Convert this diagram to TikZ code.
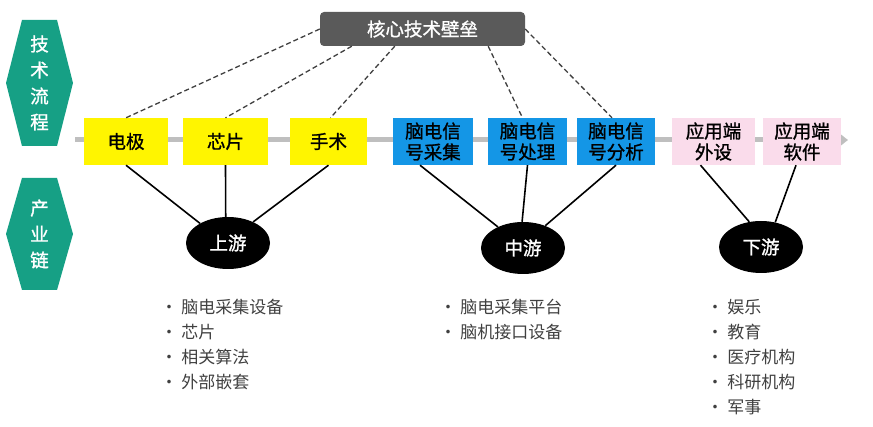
\documentclass[tikz,border=0pt]{standalone}
\usepackage{fontspec}
\newfontfamily\cjk{Noto Sans CJK SC}
\newfontfamily\cjkm[FakeBold=1.2]{Noto Sans CJK SC}
\usetikzlibrary{shapes.geometric,arrows.meta}
\definecolor{teal1}{RGB}{22,160,133}
\definecolor{ylw}{RGB}{255,245,0}
\definecolor{blu}{RGB}{20,150,230}
\definecolor{pnk}{RGB}{250,220,235}
\definecolor{core}{RGB}{90,90,90}
\tikzset{
  stage/.style={minimum width=80pt,minimum height=47pt,inner sep=0pt,align=center,font=\cjkm\fontsize{18.5}{21}\selectfont},
  yel/.style={stage,fill=ylw},
  bl/.style={stage,fill=blu},
  pk/.style={stage,fill=pnk},
  tier/.style={ellipse,fill=black,text=white,minimum width=84pt,minimum height=52pt,inner sep=0pt,font=\cjkm\fontsize{18.5}{20}\selectfont},
  lst/.style={anchor=north west,align=left,font=\cjk\fontsize{17}{25}\selectfont,text=black!75},
  dsh/.style={dash pattern=on 5pt off 3pt,line width=1.3pt,black!75},
  lnk/.style={line width=1.6pt}
}
\begin{document}
\begin{tikzpicture}[x=1pt,y=-1pt]
    \useasboundingbox (0,0) rectangle (873,427);
    % side labels
    \draw[fill=teal1,draw=none] (22,20) -- (57,20) -- (73,83) -- (57,146) -- (22,146) -- (6,83) -- cycle;
    \node[text=white,font=\cjkm\fontsize{18.5}{26}\selectfont,align=center] (flow) at (39.5,83) {技\\术\\流\\程};
    \draw[fill=teal1,draw=none] (22,178) -- (57,178) -- (73,234) -- (57,290) -- (22,290) -- (6,234) -- cycle;
    \node[text=white,font=\cjkm\fontsize{18.5}{26}\selectfont,align=center] (chain) at (39.5,234) {产\\业\\链};
    % axis
    \coordinate (a0) at (75,140);
    \coordinate (a1) at (848,140);
    \draw[line width=5pt,black!25,-{Triangle[length=8pt,width=12pt]}] (a0) -- (a1);
    % stages
    \node[yel,minimum width=84pt] (dj) at (126,141.5) {电极};
    \node[yel,minimum width=85pt] (xp) at (225.5,141.5) {芯片};
    \node[yel,minimum width=77pt] (ss) at (328.5,141.5) {手术};
    \node[bl] (cj) at (433,141.5) {脑电信\\号采集};
    \node[bl,minimum width=79pt] (cl) at (527.5,141.5) {脑电信\\号处理};
    \node[bl,minimum width=78pt] (fx) at (616,141.5) {脑电信\\号分析};
    \node[pk,minimum width=83pt] (ws) at (713.5,141.5) {应用端\\外设};
    \node[pk,minimum width=78pt] (rj) at (802,141.5) {应用端\\软件};
    % core
    \node[fill=core,rounded corners=4pt,text=white,minimum width=205pt,minimum height=34pt,font=\cjkm\fontsize{18.5}{20}\selectfont] (hx) at (422.5,29) {核心技术壁垒};
    \draw[dsh] (hx.west) -- (dj.north);
    \draw[dsh] ([xshift=32pt]hx.south west) -- (xp.north);
    \draw[dsh] ([xshift=75pt]hx.south west) -- ([xshift=2pt]ss.north);
    \draw[dsh] ([xshift=-37pt]hx.south east) -- ([xshift=-5pt]cl.north);
    \draw[dsh] (hx.east) -- ([xshift=-4pt]fx.north);
    % tiers
    \node[tier] (sy) at (228,243) {上游};
    \node[tier] (zy) at (523,248) {中游};
    \node[tier] (xy) at (761,247) {下游};
    \draw[lnk] (dj.south) -- (sy.145);
    \draw[lnk] (xp.south) -- (sy.95);
    \draw[lnk] (ss.south) -- (sy.40);
    \draw[lnk] ([xshift=-13pt]cj.south) -- (zy.140);
    \draw[lnk] (cl.south) -- (zy.92);
    \draw[lnk] (fx.south) -- (zy.45);
    \draw[lnk] ([xshift=-13pt]ws.south) -- (xy.115);
    \draw[lnk] ([xshift=-6pt]rj.south) -- (xy.60);
    % lists
    \node[lst] (l1) at (157,296) {· 脑电采集设备\\· 芯片\\· 相关算法\\· 外部嵌套};
    \node[lst] (l2) at (436,296) {• 脑电采集平台\\• 脑机接口设备};
    \node[lst] (l3) at (703,296) {• 娱乐\\• 教育\\• 医疗机构\\• 科研机构\\• 军事};
\end{tikzpicture}
\end{document}
